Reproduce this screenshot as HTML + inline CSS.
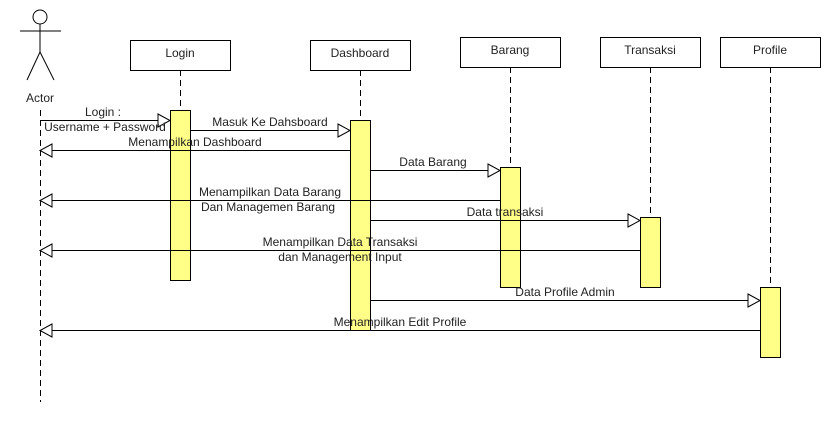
<!DOCTYPE html>
<html><head><style>body{margin:0;background:#fff}svg{display:block}text{font-family:"Liberation Sans",sans-serif;font-size:12px;fill:#222}</style></head><body>
<svg width="830" height="430" viewBox="0 0 830 430">
<g stroke="#000" fill="none" stroke-width="1">
<circle cx="40" cy="17" r="7" fill="#fff"/>
<line x1="40" y1="24" x2="40" y2="52"/><line x1="20" y1="31" x2="61" y2="31"/>
<line x1="40" y1="52" x2="27" y2="80"/><line x1="40" y1="52" x2="54" y2="80"/>
<g stroke-dasharray="6,4">
<line x1="40.5" y1="110" x2="40.5" y2="402"/>
<line x1="180.5" y1="70" x2="180.5" y2="110"/>
<line x1="360.5" y1="70" x2="360.5" y2="120"/>
<line x1="510.5" y1="67" x2="510.5" y2="167"/>
<line x1="650.5" y1="67" x2="650.5" y2="217"/>
<line x1="770.5" y1="67" x2="770.5" y2="287"/>
</g>
<rect x="130.5" y="40.5" width="100" height="30" fill="#fff"/>
<rect x="310.5" y="40.5" width="100" height="30" fill="#fff"/>
<rect x="460.5" y="37.5" width="100" height="30" fill="#fff"/>
<rect x="600.5" y="37.5" width="100" height="30" fill="#fff"/>
<rect x="720.5" y="37.5" width="100" height="30" fill="#fff"/>
<g fill="#ffff88">
<rect x="170.5" y="110.5" width="20" height="170"/>
<rect x="350.5" y="120.5" width="20" height="210"/>
<rect x="500.5" y="167.5" width="20" height="120"/>
<rect x="640.5" y="217.5" width="20" height="70"/>
<rect x="760.5" y="287.5" width="20" height="70"/>
</g>
<line x1="40" y1="120.5" x2="170" y2="120.5"/><path d="M158 114 L170 120.5 L158 127 Z" fill="#fff"/>
<line x1="190" y1="130.5" x2="350" y2="130.5"/><path d="M338 124 L350 130.5 L338 137 Z" fill="#fff"/>
<line x1="350" y1="150.5" x2="40" y2="150.5"/><path d="M52 144 L40 150.5 L52 157 Z" fill="#fff"/>
<line x1="370" y1="170.5" x2="500" y2="170.5"/><path d="M488 164 L500 170.5 L488 177 Z" fill="#fff"/>
<line x1="500" y1="200.5" x2="40" y2="200.5"/><path d="M52 194 L40 200.5 L52 207 Z" fill="#fff"/>
<line x1="370" y1="220.5" x2="640" y2="220.5"/><path d="M628 214 L640 220.5 L628 227 Z" fill="#fff"/>
<line x1="640" y1="250.5" x2="40" y2="250.5"/><path d="M52 244 L40 250.5 L52 257 Z" fill="#fff"/>
<line x1="370" y1="300.5" x2="760" y2="300.5"/><path d="M748 294 L760 300.5 L748 307 Z" fill="#fff"/>
<line x1="760" y1="330.5" x2="40" y2="330.5"/><path d="M52 324 L40 330.5 L52 337 Z" fill="#fff"/>
</g>
<g text-anchor="middle">
<text x="40" y="102">Actor</text>
<text x="180" y="57">Login</text>
<text x="360" y="57">Dashboard</text>
<text x="510" y="54">Barang</text>
<text x="650" y="54">Transaksi</text>
<text x="770" y="54">Profile</text>
<text x="103" y="116">Login :</text>
<text x="105" y="131">Username + Password</text>
<text x="270" y="126">Masuk Ke Dahsboard</text>
<text x="195" y="146">Menampilkan Dashboard</text>
<text x="433" y="166">Data Barang</text>
<text x="270" y="196">Menampilkan Data Barang</text>
<text x="268" y="211">Dan Managemen Barang</text>
<text x="505" y="216">Data transaksi</text>
<text x="340" y="246">Menampilkan Data Transaksi</text>
<text x="340" y="261">dan Management Input</text>
<text x="565" y="296">Data Profile Admin</text>
<text x="400" y="326">Menampilkan Edit Profile</text>
</g>
</svg>
</body></html>
